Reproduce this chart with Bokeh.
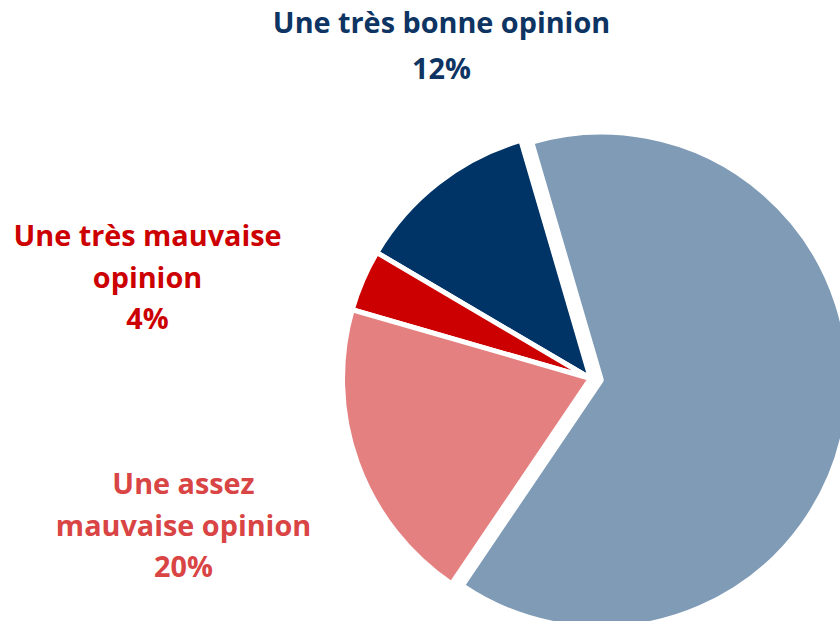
import math
from bokeh.plotting import figure
from bokeh.models import Range1d
from bokeh.core.properties import value
from bokeh.embed import file_html
from bokeh.resources import INLINE

# ---- data ----
categories = ["Une très bonne opinion", "Une très mauvaise opinion",
              "Une assez mauvaise opinion", "Une assez bonne opinion"]
percentages = [12, 4, 20, 64]
slice_colors = ["#003366", "#cc0000", "#e58080", "#7f9bb6"]
label_colors = ["#0d3462", "#cc0000", "#d94444", "#7f9bb6"]

# ---- layout / style ----
W, H = 840, 621
cx, cy = 590, 621 - 378
R = 248
start_deg = 106.3
explode = [0, 0, 0, 11]
label_lines = [
    ["Une très bonne opinion", "{}%"],
    ["Une très mauvaise", "opinion", "{}%"],
    ["Une assez", "mauvaise opinion", "{}%"],
    None,
]
label_anchor = [(441, 21, 46), (147, 234, 41.5), (183, 482, 41.5), None]
FONT = "Open Sans"
FSIZE = "28.8px"

p = figure(width=W, height=H, output_backend="svg", toolbar_location=None,
           x_range=Range1d(0, W), y_range=Range1d(0, H), min_border=0)
p.axis.visible = False
p.grid.visible = False
p.outline_line_color = None
p.background_fill_color = "white"
p.border_fill_color = "white"

total = sum(percentages)
a = math.radians(start_deg)
for i, v in enumerate(percentages):
    span = 2 * math.pi * v / total
    s, e = a, a + span
    mid = (s + e) / 2
    ox = cx + explode[i] * math.cos(mid)
    oy = cy + explode[i] * math.sin(mid)
    p.wedge(x=[ox], y=[oy], radius=R, start_angle=[s], end_angle=[e],
            fill_color=slice_colors[i], line_color="white", line_width=5)
    a = e

for i, v in enumerate(percentages):
    if label_lines[i] is None:
        continue
    x0, y0, dy = label_anchor[i]
    lines = [t.format(v) for t in label_lines[i]]
    xs = [x0] * len(lines)
    ys = [H - (y0 + k * dy) for k in range(len(lines))]
    p.text(x=xs, y=ys, text=lines, text_align="center", text_baseline="alphabetic",
           text_font=value(FONT), text_font_style="bold", text_font_size=FSIZE,
           text_color=label_colors[i])

open("out.html", "w").write(file_html(p, INLINE))
